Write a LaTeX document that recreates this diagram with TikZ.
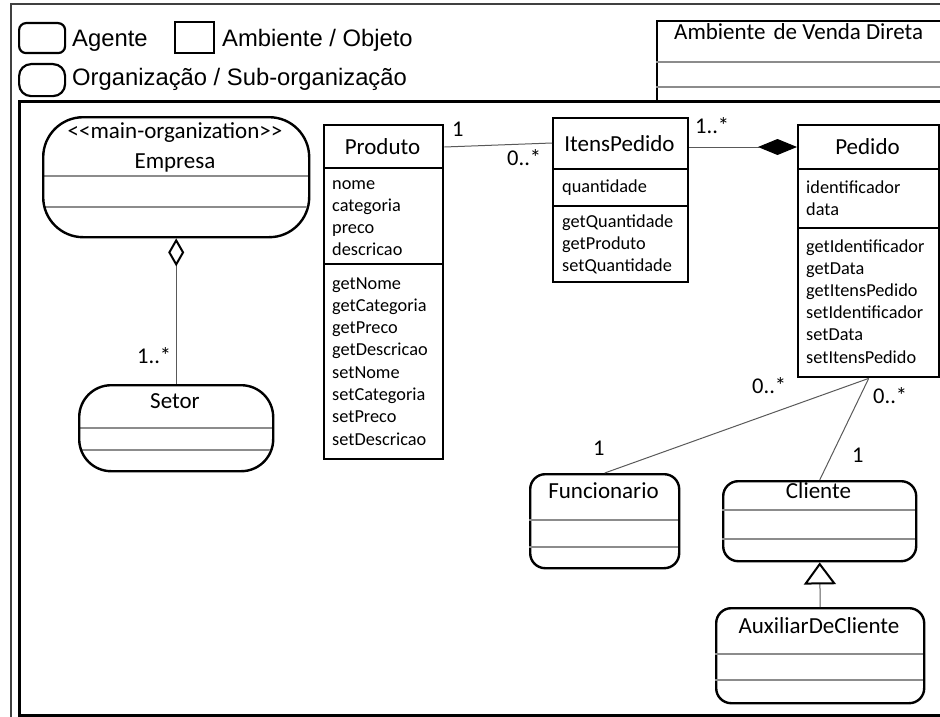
\documentclass[tikz,border=0pt]{standalone}
\usepackage{fontspec}
\setmainfont{Carlito}
\newfontfamily\legendfont{Liberation Sans}
\usetikzlibrary{arrows.meta}

\tikzset{
  classbox/.style={draw=black, line width=2.4pt, rectangle, inner sep=0pt, anchor=north west},
  roundbox/.style={draw=black, line width=2.4pt, rectangle, rounded corners=15pt, inner sep=0pt, anchor=north west},
  legendbox/.style={draw=black, line width=2.2pt, rectangle, inner sep=0pt, anchor=north west},
  thinsep/.style={draw=black!45, line width=1.2pt},
  thicksep/.style={draw=black, line width=2.4pt},
  conn/.style={draw=black!65, line width=1pt},
  titletext/.style={font=\fontsize{23}{27}\selectfont, anchor=base, inner sep=0pt, text=black},
  membertext/.style={font=\fontsize{18.3}{22}\selectfont, anchor=base west, inner sep=0pt, text=black},
  multtext/.style={font=\fontsize{22.5}{26}\selectfont, anchor=base west, inner sep=0pt, text=black},
  legendtext/.style={font=\legendfont\fontsize{23.8}{28}\selectfont, anchor=base west, inner sep=0pt, text=black},
}

\begin{document}
\begin{tikzpicture}[x=1pt,y=-1pt]
\useasboundingbox (0,0) rectangle (940,717);
\clip (0,0) rectangle (940,717);

% frames
\draw[black!75, line width=1.8pt] (11,730) -- (11,4) -- (950,4);
\draw[black, line width=3pt] (950,715.5) -- (19,715.5) -- (19,101) -- (950,101);

% legend
\node[legendbox, rounded corners=7pt, minimum width=46pt, minimum height=30pt] (lg-agent) at (18,22) {};
\node[legendtext] (lg-agent-t) at (72,47) {Agente};
\node[legendbox, minimum width=39pt, minimum height=31pt] (lg-obj) at (174,21) {};
\node[legendtext] (lg-obj-t) at (222,47) {Ambiente / Objeto};
\node[legendbox, rounded corners=12pt, minimum width=46pt, minimum height=32pt] (lg-org) at (18,63) {};
\node[legendtext] (lg-org-t) at (72,85) {Organização / Sub-organização};

% environment
\node[classbox, minimum width=300pt, minimum height=81pt] (ambiente) at (656,20) {};
\draw[thinsep] (656,62) -- (950,62);
\draw[thinsep] (656,87) -- (950,87);
\node[titletext, anchor=base west] (ambiente-t) at (674,40) {Ambiente\hspace{3pt} de Venda Direta};

% organizations
\begin{scope}
  \clip[rounded corners=40pt] (42,116) rectangle (308,236);
  \draw[thinsep] (40,176) -- (310,176);
  \draw[thinsep] (40,207) -- (310,207);
\end{scope}
\node[classbox, rounded corners=40pt, minimum width=266pt, minimum height=120pt] (empresa) at (42,116) {};
\node[titletext] (empresa-s) at (175,138) {<\kern0pt<main-organization>\kern0pt>};
\node[titletext] (empresa-t) at (175,168) {Empresa};

\begin{scope}
  \clip[rounded corners=32pt] (78,384) rectangle (272,470);
  \draw[thinsep] (76,428) -- (274,428);
  \draw[thinsep] (76,450) -- (274,450);
\end{scope}
\node[classbox, rounded corners=32pt, minimum width=194pt, minimum height=86pt] (setor) at (78,384) {};
\node[titletext] (setor-t) at (175,408) {Setor};

% Produto
\node[classbox, minimum width=119pt, minimum height=334pt] (produto) at (323,124) {};
\draw[thicksep] (323,168) -- (442,168);
\draw[thicksep] (323,264) -- (442,264);
\node[titletext] (produto-t) at (382.5,154) {Produto};
\foreach \t [count=\i] in {nome,categoria,preco,descricao}
  \node[membertext] (produto-a\i) at (332,{189+22.3*(\i-1)}) {\t};
\foreach \t [count=\i] in {getNome,getCategoria,getPreco,getDescricao,setNome,setCategoria,setPreco,setDescricao}
  \node[membertext] (produto-m\i) at (332,{289+22.3*(\i-1)}) {\t};

% ItensPedido
\node[classbox, minimum width=135pt, minimum height=164pt] (itens) at (552,117) {};
\draw[thicksep] (552,169) -- (687,169);
\draw[thicksep] (552,206) -- (687,206);
\node[titletext] (itens-t) at (619.5,151) {ItensPedido};
\node[membertext] (itens-a1) at (562,192) {quantidade};
\foreach \t [count=\i] in {getQuantidade,getProduto,setQuantidade}
  \node[membertext] (itens-m\i) at (562,{227+22*(\i-1)}) {\t};

% Pedido
\node[classbox, minimum width=141pt, minimum height=252pt] (pedido) at (797,124) {};
\draw[thicksep] (797,169) -- (938,169);
\draw[thicksep] (797,228) -- (938,228);
\node[titletext] (pedido-t) at (867.5,154) {Pedido};
\foreach \t [count=\i] in {identificador,data}
  \node[membertext] (pedido-a\i) at (806,{193+22*(\i-1)}) {\t};
\foreach \t [count=\i] in {getIdentificador,getData,getItensPedido,setIdentificador,setData,setItensPedido}
  \node[membertext] (pedido-m\i) at (806,{252+22.2*(\i-1)}) {\t};

% agents
\node[roundbox, minimum width=149pt, minimum height=94pt] (funcionario) at (529,473) {};
\draw[thinsep] (529,520) -- (678,520);
\draw[thinsep] (529,547) -- (678,547);
\node[titletext] (funcionario-t) at (603.5,498) {Funcionario};

\node[roundbox, minimum width=193pt, minimum height=80pt] (cliente) at (722,480) {};
\draw[thinsep] (722,510) -- (915,510);
\draw[thinsep] (722,539) -- (915,539);
\node[titletext] (cliente-t) at (818.5,498) {Cliente};

\node[roundbox, minimum width=208pt, minimum height=95pt] (aux) at (715,607) {};
\draw[thinsep] (715,654) -- (923,654);
\draw[thinsep] (715,680) -- (923,680);
\node[titletext] (aux-t) at (819,633) {AuxiliarDeCliente};

% relations
\draw[conn, {Diamond[open, length=28pt, width=16pt, line width=2pt, color=black]}-] (empresa.south) -- (setor.north);
\draw[conn] ([yshift=-23pt]produto.north east) -- ([yshift=-26pt]itens.north west);
\draw[conn, -{Diamond[length=39pt, width=16pt, color=black, fill=black]}] ([yshift=-30pt]itens.north east) -- ([yshift=-23pt]pedido.north west);
\draw[conn] (pedido.south) -- (funcionario.north);
\draw[conn] (pedido.south) -- (cliente.north);
\draw[conn, -{Triangle[open, length=22pt, width=32pt, line width=2pt, color=black]}] (aux.north) -- (cliente.south);

% multiplicities
\node[multtext] (m-setor) at (137,363) {1..*};
\node[multtext] (m-produto) at (452,136) {1};
\node[multtext] (m-itens-p) at (507,165) {0..*};
\node[multtext] (m-itens-o) at (695,133) {1..*};
\node[multtext] (m-ped-f) at (752,393) {0..*};
\node[multtext] (m-ped-c) at (873,403) {0..*};
\node[multtext] (m-func) at (593,455) {1};
\node[multtext] (m-cli) at (852,462) {1};
\end{tikzpicture}
\end{document}
